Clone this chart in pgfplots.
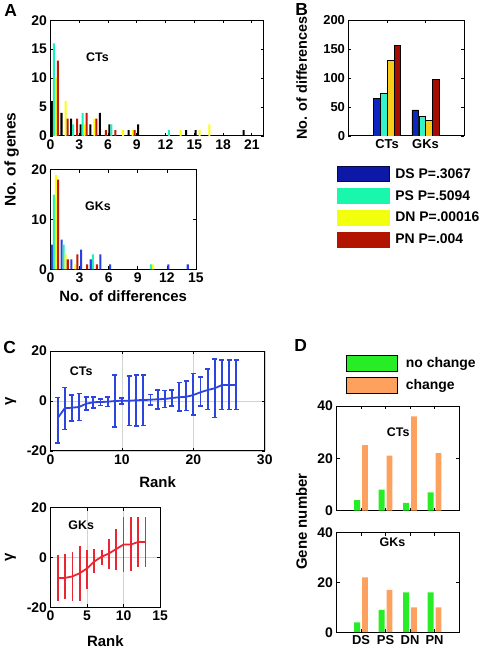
\documentclass[border=0pt]{standalone}
\usepackage{pgfplots}
\pgfplotsset{compat=1.18}
\usepackage{pgfplotstable}
\usepackage{fontspec}
\setmainfont{Liberation Sans}

\definecolor{aCyan}{rgb}{0.1,0.95,0.75}
\definecolor{aYel}{rgb}{1,1,0}
\definecolor{aRed}{rgb}{0.75,0.1,0.0}
\definecolor{aBlue}{rgb}{0.15,0.25,0.9}
\definecolor{bBlue}{rgb}{0.05,0.15,0.75}
\definecolor{bCyan}{rgb}{0.2,0.95,0.8}
\definecolor{bYel}{rgb}{0.98,0.8,0.1}
\definecolor{bRed}{rgb}{0.65,0.05,0.0}
\definecolor{lDS}{rgb}{0.05,0.1,0.65}
\definecolor{lPS}{rgb}{0.1,0.97,0.68}
\definecolor{lDN}{rgb}{0.95,1,0.05}
\definecolor{lPN}{rgb}{0.7,0.08,0.0}
\definecolor{cBlue}{rgb}{0.17,0.27,0.87}
\definecolor{cRed}{rgb}{0.92,0.15,0.2}
\definecolor{dGreen}{rgb}{0.15,0.93,0.15}
\definecolor{dOrange}{rgb}{1,0.63,0.37}

\newcommand\tickf{\fontsize{14}{16}\selectfont\bfseries}
\newcommand\tickb{\fontsize{13}{15}\selectfont\bfseries}
\newcommand\labf{\fontsize{15}{17}\selectfont\bfseries}
\newcommand\annf{\fontsize{12.5}{14}\selectfont\bfseries}
\newcommand\legf{\fontsize{14}{16}\selectfont\bfseries}
\newcommand\panf{\fontsize{17.5}{20}\selectfont\bfseries}

\pgfplotstableread{
r m t b
1 -6.9 1.5 -16.8
2 -2.9 5.5 -11.5
3 -2.7 2.5 -8.1
4 -2.4 3.1 -7.9
5 -1.1 1.7 -3.6
6 -0.5 1.7 -2.8
7 -0.4 0.8 -1.9
8 -0.3 1.6 -2.3
9 0.0 10.4 -10.4
10 0.1 1.3 -1.2
11 0.1 10.1 -9.9
12 0.3 10.4 -10.1
13 0.4 10.4 -9.9
14 0.5 2.7 -1.6
15 0.7 4.5 -3.2
16 0.8 4.3 -2.7
17 1.2 4.5 -2.1
18 1.5 7.5 -4.1
19 1.7 8.1 -3.9
20 2.4 11.1 -5.6
21 3.5 9.7 -2.1
22 4.4 12.8 -3.5
23 5.1 16.8 -6.7
24 6.4 16.5 -3.5
25 6.4 16.5 -3.5
26 6.4 16.5 -3.5
}\ctdata

\pgfplotstableread{
r m t b
1 -8.2 0.8 -17.5
2 -8.2 1.3 -16.8
3 -7.6 2.2 -17.3
4 -6.3 4.7 -17.4
5 -4.4 3.1 -12.8
6 -1.6 3.4 -6.1
7 0.3 3.0 -3.0
8 1.6 7.4 -4.6
9 3.4 11.6 -5.0
10 5.2 16.3 -6.0
11 5.2 16.3 -5.4
12 6.2 16.3 -4.0
13 6.2 16.4 -3.7
}\gkdata

\pgfplotsset{
  mybase/.style={
    scale only axis, tick align=inside, major tick length=3pt,
    tick style={black, line width=0.6pt},
    axis line style={line width=0.8pt},
    tick label style={font=\tickf},
    /pgf/number format/assume math mode=true,
    label style={font=\labf},
  },
  hb/.style={ybar, bar width=0.21, bar shift=0pt, draw=none, fill=#1},
  bb/.style={ybar, bar width=0.17, bar shift=0pt, draw=black, line width=0.5pt, fill=#1, forget plot},
  db/.style={ybar, bar width=0.24, bar shift=0pt, draw=none, fill=#1, forget plot},
}

\begin{document}
\begin{tikzpicture}
\path (0pt,0pt) rectangle (476pt,650pt);

% ---------- A top (CTs)
\begin{axis}[mybase, at={(48pt,514pt)}, anchor=south west, width=214pt, height=116pt,
  xmin=0, xmax=22.25, ymin=0, ymax=20, xtick={0,3,...,21}, ytick={0,5,...,20},
  ylabel={No. of genes}, ylabel style={at={(axis description cs:-0.182,-0.207)}, anchor=center, font=\fontsize{15.5}{17}\selectfont\bfseries}]
\addplot[hb=black] coordinates {(0.15,6)(1.15,4)(2.15,3)(3.15,2)(4.15,2)(5.15,4)(6.15,2)(8.15,1)(9.15,2)(14.15,1)(15.15,1)(20.15,1)};
\addplot[hb=aCyan] coordinates {(0.36,16)(2.36,2)(3.36,4)(6.36,2)(12.36,1)};
\addplot[hb=aYel] coordinates {(0.57,10)(1.57,6)(3.57,2)(4.57,3)(7.57,1)(8.57,1)(13.57,1)(15.57,1)(16.57,2)};
\addplot[hb=aRed] coordinates {(0.78,13)(1.78,3)(2.78,3)(3.78,4)(4.78,3)(5.78,1)(6.78,1)(8.78,1)};
\node[font=\annf] at (axis cs:4.9,13.6) {CTs};
\end{axis}

% ---------- A bottom (GKs)
\begin{axis}[mybase, at={(48pt,380pt)}, anchor=south west, width=146pt, height=100pt,
  xmin=0, xmax=15, ymin=0, ymax=20, xtick={0,3,...,15}, ytick={0,10,20},
  xlabel={No. of differences}, xlabel style={at={(axis description cs:0.5,-0.27)}, anchor=center}]
\addplot[hb=aBlue] coordinates {(0.15,5)(1.15,6)(2.15,2)(3.15,4)(4.15,2)(5.15,3)(6.15,1)(12.15,1)(14.15,1)};
\addplot[hb=aCyan] coordinates {(0.36,15)(1.36,5)(4.36,3)(10.36,1)};
\addplot[hb=aYel] coordinates {(0.57,19)(1.57,3)(2.57,1)(10.57,1)};
\addplot[hb=aRed] coordinates {(0.78,18)(1.78,2)(2.78,3)(3.78,1)(4.78,1)};
\node[font=\annf] at (axis cs:4.9,12.6) {GKs};
\end{axis}

% ---------- B
\begin{axis}[mybase, at={(347pt,514pt)}, anchor=south west, width=116pt, height=116pt,
  tick label style={font=\tickb},
  xmin=0, xmax=3, ymin=0, ymax=200, xtick={1,2}, xticklabels={CTs,GKs}, ytick={0,50,...,200},
  ylabel={No. of differences}, ylabel style={at={(axis description cs:-0.405,0.5)}, anchor=center, font=\fontsize{14.5}{16}\selectfont\bfseries},
  legend style={at={(axis description cs:-0.103,-0.259)}, anchor=north west, draw=none, fill=none,
    font=\legf, row sep=6.5pt, inner sep=0pt, /tikz/every odd column/.append style={column sep=4pt}},
  legend cell align=left,
  legend image code/.code={\draw[#1] (0pt,-7.5pt) rectangle (52pt,7.5pt);}]
\addplot[bb=bBlue] coordinates {(0.73,65)(1.73,45)};
\addplot[bb=bCyan] coordinates {(0.91,74)(1.91,34)};
\addplot[bb=bYel] coordinates {(1.09,131)(2.09,27)};
\addplot[bb=bRed] coordinates {(1.27,156)(2.27,98)};
\addlegendimage{fill=lDS, draw=black!60!lDS, line width=0.8pt}
\addlegendentry{DS P=.3067}
\addlegendimage{fill=lPS, draw=lPS}
\addlegendentry{PS P=.5094}
\addlegendimage{fill=lDN, draw=lDN}
\addlegendentry{DN P=.00016}
\addlegendimage{fill=lPN, draw=lPN}
\addlegendentry{PN P=.004}
\end{axis}

% ---------- C top (CTs)
\begin{axis}[mybase, at={(48pt,198pt)}, anchor=south west, width=215pt, height=100pt,
  xmin=0, xmax=30, ymin=-20, ymax=20, xtick={0,10,20,30}, ytick={-20,0,20},
  grid=major, major grid style={gray!35, line width=0.5pt},
  axis line style={line width=1.2pt},
  xlabel={Rank}, xlabel style={at={(axis description cs:0.5,-0.31)}, anchor=center},
  ylabel={γ}, ylabel style={at={(axis description cs:-0.186,0.5)}, anchor=center},
  every error bar/.append style={cBlue, line width=1.8pt}]
\addplot[cBlue, line width=1.8pt, mark=none,
  error bars/.cd, y dir=both, y explicit,
  error mark options={rotate=90, cBlue, line width=1.5pt, mark size=2.5pt}]
  table[x=r, y=m, y error plus expr=\thisrow{t}-\thisrow{m}, y error minus expr=\thisrow{m}-\thisrow{b}] {\ctdata};
\node[font=\annf] at (axis cs:4.3,12) {CTs};
\end{axis}

% ---------- C bottom (GKs)
\begin{axis}[mybase, at={(48pt,41pt)}, anchor=south west, width=110pt, height=100pt,
  xmin=0, xmax=15, ymin=-20, ymax=20, xtick={0,5,10,15}, ytick={-20,0,20},
  grid=major, major grid style={gray!35, line width=0.5pt},
  axis line style={line width=1.2pt},
  xlabel={Rank}, xlabel style={at={(axis description cs:0.5,-0.34)}, anchor=center},
  ylabel={γ}, ylabel style={at={(axis description cs:-0.364,0.5)}, anchor=center},
  every error bar/.append style={cRed, line width=1.8pt}]
\addplot[cRed, line width=1.8pt, mark=none,
  error bars/.cd, y dir=both, y explicit, error mark=none]
  table[x=r, y=m, y error plus expr=\thisrow{t}-\thisrow{m}, y error minus expr=\thisrow{m}-\thisrow{b}] {\gkdata};
\node[font=\annf] at (axis cs:4.2,12.8) {GKs};
\end{axis}

% ---------- D top (CTs)
\begin{axis}[mybase, at={(335pt,138pt)}, anchor=south west, width=123pt, height=105pt,
  xmin=0, xmax=5, ymin=0, ymax=40, xtick={1,2,3,4}, xticklabels={}, ytick={0,20,40},
  legend style={at={(axis description cs:0.073,1.486)}, anchor=north west, draw=none, fill=none,
    font=\legf, row sep=5.5pt, inner sep=0pt, /tikz/every odd column/.append style={column sep=6pt}},
  legend cell align=left,
  legend image code/.code={\fill[#1] (0pt,-8pt) rectangle (52pt,8pt);}]
\addplot[db=dGreen] coordinates {(0.84,4)(1.84,8)(2.84,3)(3.84,7)};
\addplot[db=dOrange] coordinates {(1.16,25)(2.16,21)(3.16,36)(4.16,22)};
\addlegendimage{fill=dGreen}
\addlegendentry{no change}
\addlegendimage{fill=dOrange}
\addlegendentry{change}
\node[font=\annf] at (axis cs:2.52,30) {CTs};
\end{axis}

% ---------- D bottom (GKs)
\begin{axis}[mybase, at={(335pt,16pt)}, anchor=south west, width=123pt, height=100pt,
  xmin=0, xmax=5, ymin=0, ymax=40, xtick={1,2,3,4}, xticklabels={DS,PS,DN,PN}, ytick={0,20,40},
  xticklabel style={font=\tickb},
  ylabel={Gene number}, ylabel style={at={(axis description cs:-0.285,1.11)}, anchor=center}]
\addplot[db=dGreen] coordinates {(0.84,4)(1.84,9)(2.84,16)(3.84,16)};
\addplot[db=dOrange] coordinates {(1.16,22)(2.16,17)(3.16,10)(4.16,10)};
\node[font=\annf] at (axis cs:2.28,36.2) {GKs};
\end{axis}

\node[font=\panf] at (8pt,640pt) {A};
\node[font=\panf] at (300pt,641pt) {B};
\node[font=\panf] at (7pt,302pt) {C};
\node[font=\panf] at (299pt,304pt) {D};
\end{tikzpicture}
\end{document}
